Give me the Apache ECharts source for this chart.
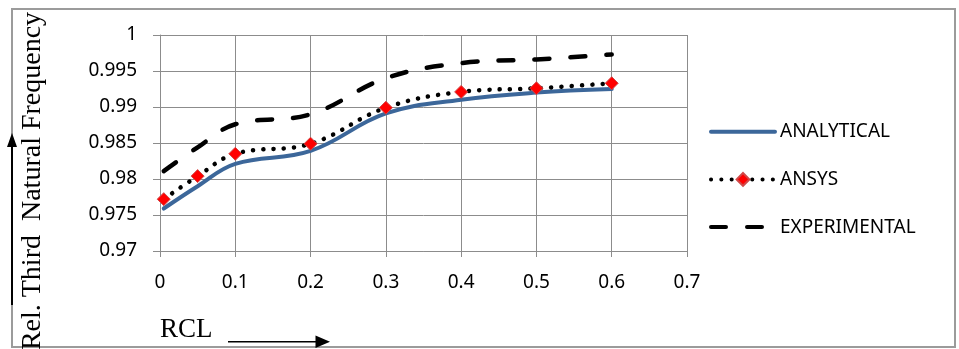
<!DOCTYPE html>
<html>
<head>
<meta charset="utf-8">
<script src="https://cdn.jsdelivr.net/npm/echarts@6/dist/echarts.min.js"></script>
<style>
  html, body { margin: 0; padding: 0; background: #ffffff; }
  #chart { width: 959px; height: 349px; }
</style>
</head>
<body>
<div id="chart"></div>
<script>
// RCL positions shared by all three series
const rcl = [0.005, 0.05, 0.1, 0.2, 0.3, 0.4, 0.5, 0.6];
// Relative third natural frequency
const analytical   = [0.9759, 0.9790, 0.9821, 0.9839, 0.9891, 0.9910, 0.9920, 0.9925];
const ansys        = [0.9772, 0.9804, 0.9835, 0.9849, 0.9899, 0.9921, 0.9926, 0.9933];
const experimental = [0.9811, 0.9844, 0.9876, 0.9890, 0.9940, 0.9961, 0.9966, 0.9973];

const seriesNames = ['ANALYTICAL', 'ANSYS', 'EXPERIMENTAL'];
const xTickLabels = ['0', '0.1', '0.2', '0.3', '0.4', '0.5', '0.6', '0.7'];
const yTickLabels = ['0.97', '0.975', '0.98', '0.985', '0.99', '0.995', '1'];
const xTitle = 'RCL';
const yTitle = 'Rel. Third  Natural Frequency';

const pairs = (ys) => rcl.map((x, i) => [x, ys[i]]);

const gridGray = '#8c8c8c';
const labelFont = 'Noto Sans';
const titleFont = 'Liberation Serif';

const chart = echarts.init(document.getElementById('chart'), null, { renderer: 'canvas' });

chart.setOption({
  backgroundColor: '#ffffff',
  animation: false,
  grid: { left: 160, right: 272, top: 35, bottom: 98, containLabel: false },
  xAxis: {
    type: 'value',
    min: 0, max: 0.7, interval: 0.1,
    axisLine: { show: true, lineStyle: { color: gridGray, width: 1 } },
    axisTick: { show: true, length: 6, lineStyle: { color: gridGray, width: 1 } },
    splitLine: { show: true, lineStyle: { color: gridGray, width: 1 } },
    axisLabel: {
      margin: 22,
      color: '#000', fontFamily: labelFont, fontSize: 19,
      formatter: (v) => xTickLabels[Math.round(v / 0.1)]
    }
  },
  yAxis: {
    type: 'value',
    min: 0.97, max: 1, interval: 0.005,
    axisLine: { show: true, lineStyle: { color: gridGray, width: 1 } },
    axisTick: { show: true, length: 7, lineStyle: { color: gridGray, width: 1 } },
    splitLine: { show: true, lineStyle: { color: gridGray, width: 1 } },
    axisLabel: {
      margin: 23,
      color: '#000', fontFamily: labelFont, fontSize: 19,
      formatter: (v) => yTickLabels[Math.round((v - 0.97) / 0.005)]
    }
  },
  legend: {
    orient: 'vertical',
    left: 709, top: 122.2, padding: 0,
    itemWidth: 64, itemHeight: 16, itemGap: 28.7,
    lineStyle: { width: 4 },
    textStyle: { color: '#000', fontFamily: labelFont, fontSize: 19 },
    data: [
      { name: seriesNames[0], itemStyle: { opacity: 0 } },
      { name: seriesNames[1] },
      { name: seriesNames[2], itemStyle: { opacity: 0 } }
    ]
  },
  series: [
    {
      name: seriesNames[0],
      type: 'line',
      data: pairs(analytical),
      smooth: 0.4,
      symbol: 'none',
      z: 3,
      lineStyle: { color: '#3c679a', width: 4, cap: 'round', join: 'round' },
      itemStyle: { color: '#3c679a' }
    },
    {
      name: seriesNames[1],
      type: 'line',
      data: pairs(ansys),
      smooth: 0.4,
      symbol: 'diamond',
      symbolSize: 13,
      z: 4,
      lineStyle: { color: '#000000', width: 4.5, type: [0.1, 10.2], cap: 'round' },
      itemStyle: { color: '#ff0000', borderColor: '#d04848', borderWidth: 1 }
    },
    {
      name: seriesNames[2],
      type: 'line',
      data: pairs(experimental),
      smooth: 0.4,
      symbol: 'none',
      z: 2,
      lineStyle: { color: '#000000', width: 4.5, type: [15, 21], cap: 'round' },
      itemStyle: { color: '#000000' }
    }
  ],
  graphic: [
    // chart-area frame
    {
      type: 'rect', z: 0, silent: true,
      shape: { x: 12, y: 9, width: 943, height: 338 },
      style: { fill: 'none', stroke: '#9b9b9b', lineWidth: 2 }
    },
    // vertical axis title with upward arrow
    {
      type: 'text', z: 10,
      x: 33, y: 181, rotation: Math.PI / 2,
      style: {
        text: yTitle, fill: '#000',
        font: '28px "' + titleFont + '"',
        align: 'center', verticalAlign: 'middle'
      }
    },
    {
      type: 'line', z: 10,
      shape: { x1: 12, y1: 305, x2: 12, y2: 146 },
      style: { stroke: '#000', lineWidth: 2 }
    },
    {
      type: 'polygon', z: 10,
      shape: { points: [[12, 133], [7, 147], [17, 147]] },
      style: { fill: '#000' }
    },
    // horizontal axis title with rightward arrow
    {
      type: 'text', z: 10,
      x: 160, y: 330,
      style: {
        text: xTitle, fill: '#000',
        font: '27px "' + titleFont + '"',
        align: 'left', verticalAlign: 'middle'
      }
    },
    {
      type: 'line', z: 10,
      shape: { x1: 228, y1: 341.7, x2: 317, y2: 341.7 },
      style: { stroke: '#000', lineWidth: 1.5 }
    },
    {
      type: 'polygon', z: 10,
      shape: { points: [[330, 341.7], [315.5, 335.5], [315.5, 348]] },
      style: { fill: '#000' }
    }
  ]
});
</script>
</body>
</html>
